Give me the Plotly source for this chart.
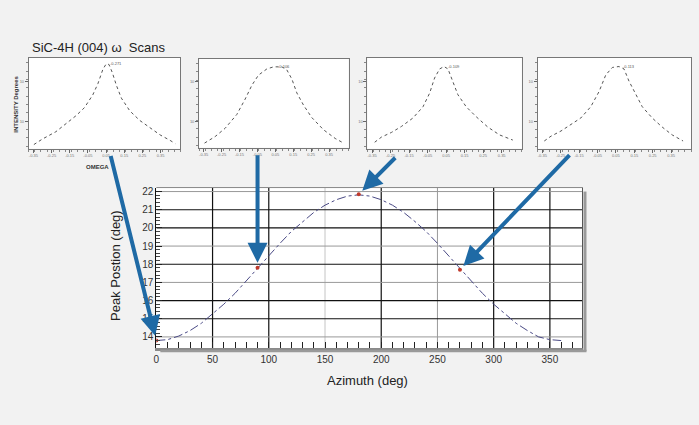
import plotly.graph_objects as go

W, H = 699, 425

# main curve: peak position vs azimuth
azimuth = [0, 10, 20, 30, 40, 50, 60, 70, 80, 90, 100, 110, 120, 130, 140, 150, 160, 170, 180,
           190, 200, 210, 220, 230, 240, 250, 260, 270, 280, 290, 300, 310, 320, 330, 340, 350, 360]
peak_pos = [13.8, 13.85, 14.05, 14.35, 14.75, 15.25, 15.8, 16.4, 17.1, 17.8, 18.5, 19.15, 19.8,
            20.35, 20.85, 21.25, 21.55, 21.75, 21.82, 21.75, 21.55, 21.25, 20.85, 20.35, 19.8,
            19.15, 18.45, 17.75, 17.05, 16.4, 15.8, 15.25, 14.75, 14.35, 14.0, 13.85, 13.8]

# measured scans (red dots)
meas_az = [0, 90, 180, 270]
meas_pos = [13.8, 17.8, 21.85, 17.7]

# omega scans shown in the four insets (normalised omega, normalised intensity)
scan1_x = [0.033, 0.089, 0.178, 0.244, 0.311, 0.367, 0.422, 0.456, 0.489, 0.511,
           0.529, 0.551, 0.578, 0.611, 0.667, 0.733, 0.8, 0.867, 0.933, 0.967]
scan1_y = [0.019, 0.085, 0.173, 0.269, 0.365, 0.462, 0.615, 0.75, 0.923, 0.988,
           0.981, 0.885, 0.731, 0.577, 0.423, 0.308, 0.223, 0.135, 0.069, 0.031]
scan2_x = [0.036, 0.107, 0.174, 0.252, 0.308, 0.353, 0.397, 0.453, 0.498, 0.554,
           0.587, 0.621, 0.654, 0.699, 0.754, 0.833, 0.911, 0.967]
scan2_y = [0.026, 0.106, 0.208, 0.377, 0.566, 0.736, 0.860, 0.936, 0.962, 0.962,
           0.925, 0.811, 0.642, 0.491, 0.340, 0.189, 0.083, 0.026]
scan3_x = [0.047, 0.091, 0.155, 0.220, 0.295, 0.360, 0.403, 0.435, 0.468, 0.496,
           0.522, 0.554, 0.586, 0.640, 0.705, 0.780, 0.856, 0.942]
scan3_y = [0.047, 0.109, 0.164, 0.236, 0.338, 0.473, 0.636, 0.818, 0.927, 0.956,
           0.927, 0.764, 0.618, 0.473, 0.353, 0.229, 0.135, 0.073]
scan4_x = [0.043, 0.087, 0.152, 0.216, 0.281, 0.346, 0.400, 0.444, 0.487, 0.530,
           0.563, 0.595, 0.639, 0.682, 0.747, 0.812, 0.877, 0.948]
scan4_y = [0.062, 0.120, 0.182, 0.255, 0.338, 0.473, 0.655, 0.855, 0.945, 0.956,
           0.927, 0.782, 0.618, 0.473, 0.338, 0.229, 0.135, 0.062]

scan_ticks = [0.03, 0.15, 0.27, 0.39, 0.51, 0.63, 0.75, 0.87]
scan_ticklabels = ["-0.35", "-0.25", "-0.15", "-0.05", "0.05", "0.15", "0.25", "0.35"]
peak_labels = ["-0.271", "-0.106", "-0.109", "-0.113"]

x_labels = [0, 50, 100, 150, 200, 250, 300, 350]
y_labels = [14, 15, 16, 17, 18, 19, 20, 21, 22]
grid_x_dark = [50, 100, 200, 300, 350]
grid_x_mid = [250]
grid_x_light = [150]
grid_y_dark = [15, 16, 18, 20, 21]
grid_y_light = [14, 17, 19, 22]


def px(x):
    return x / W


def py(y):
    return 1 - y / H


fig = go.Figure()

fig.add_trace(go.Scatter(x=azimuth, y=peak_pos, mode='lines',
                         line=dict(color='#4a4a85', width=1, dash='dashdot'),
                         xaxis='x', yaxis='y', hoverinfo='skip'))
fig.add_trace(go.Scatter(x=meas_az, y=meas_pos, mode='markers',
                         marker=dict(color='#c0392b', size=4),
                         xaxis='x', yaxis='y'))

scans = [(scan1_x, scan1_y), (scan2_x, scan2_y), (scan3_x, scan3_y), (scan4_x, scan4_y)]
inset_boxes = [(26, 178, 57, 148), (197, 347, 58, 147), (366, 521, 57, 148), (537, 691, 57, 148)]

layout = dict(
    width=W, height=H, margin=dict(l=0, r=0, t=0, b=0),
    paper_bgcolor='#f2f2f2', plot_bgcolor='white', showlegend=False,
    font=dict(family='Liberation Sans, Arial, sans-serif', color='#333'),
    xaxis=dict(domain=[px(154), px(582)], range=[0, 379], tickvals=x_labels,
               ticks='inside', ticklen=6, tickcolor='#222', showgrid=False, zeroline=False,
               tickfont=dict(size=10, color='#333'),
               minor=dict(dtick=10, ticks='inside', ticklen=6, tickcolor='#222', showgrid=False),
               showline=True, linecolor='#8a8a8a', linewidth=3, mirror=False),
    yaxis=dict(domain=[py(348), py(187)], range=[13.38, 22.22], tickvals=y_labels,
               ticks='inside', ticklen=6, tickcolor='#222', showgrid=False, zeroline=False,
               tickfont=dict(size=10, color='#333'),
               minor=dict(dtick=0.2, ticks='inside', ticklen=4, tickcolor='#444', showgrid=False),
               showline=True, linecolor='#111', linewidth=1),
)

for i, ((sx, sy), (x0, x1, y0, y1)) in enumerate(zip(scans, inset_boxes)):
    n = i + 2
    fig.add_trace(go.Scatter(x=sx, y=sy, mode='lines',
                             line=dict(color='#555', width=1, dash='dot'),
                             xaxis='x%d' % n, yaxis='y%d' % n))
    layout['xaxis%d' % n] = dict(
        domain=[px(x0), px(x1)], range=[0, 1], anchor='y%d' % n,
        tickvals=scan_ticks, ticktext=scan_ticklabels, ticks='outside', ticklen=3,
        tickcolor='#666', tickfont=dict(size=4, color='#777'),
        minor=dict(dtick=0.04, ticks='outside', ticklen=2, tickcolor='#888'),
        showgrid=False, zeroline=False, showline=True, linecolor='#777', mirror=True)
    layout['yaxis%d' % n] = dict(
        domain=[py(y1), py(y0)], range=[-0.03, 1.06], anchor='x%d' % n,
        tickvals=[0.29, 0.78], ticktext=['10', '10'], ticks='outside', ticklen=3,
        tickcolor='#666', tickfont=dict(size=4, color='#777'),
        minor=dict(dtick=0.1, ticks='outside', ticklen=2, tickcolor='#888'),
        showgrid=False, zeroline=False, showline=True, linecolor='#777', mirror=True)

fig.update_layout(**layout)

# gridlines of the main chart
shapes = []
for gx, col, w in ([(v, '#111', 1.2) for v in grid_x_dark] + [(v, '#999', 1) for v in grid_x_mid]
                   + [(v, '#d8d8d8', 1.5) for v in grid_x_light]):
    shapes.append(dict(type='line', xref='x', yref='y', x0=gx, x1=gx, y0=13.38, y1=22.22,
                       line=dict(color=col, width=w), layer='below'))
for gy, col, w in [(v, '#111', 1.2) for v in grid_y_dark] + [(v, '#999', 1) for v in grid_y_light]:
    shapes.append(dict(type='line', xref='x', yref='y', x0=0, x1=379, y0=gy, y1=gy,
                       line=dict(color=col, width=w), layer='below'))
# frame and drop shadow
shapes.append(dict(type='line', xref='paper', yref='paper', x0=px(154), x1=px(582), y0=py(187), y1=py(187),
                   line=dict(color='#888', width=1)))
shapes.append(dict(type='line', xref='paper', yref='paper', x0=px(582), x1=px(582), y0=py(187), y1=py(348),
                   line=dict(color='#555', width=1)))
shapes.append(dict(type='rect', xref='paper', yref='paper', x0=px(583), x1=px(586), y0=py(351), y1=py(191),
                   fillcolor='#9a9a9a', line=dict(width=0)))
shapes.append(dict(type='rect', xref='paper', yref='paper', x0=px(158), x1=px(586), y0=py(352), y1=py(349.5),
                   fillcolor='#9a9a9a', line=dict(width=0)))
fig.update_layout(shapes=shapes)

ann = []
ann.append(dict(text='Peak Postion (deg)', x=px(113), y=py(265), xref='paper', yref='paper',
                xanchor='center', yanchor='middle',
                textangle=-90, showarrow=False, font=dict(size=13, color='#222')))
ann.append(dict(text='Azimuth (deg)', x=px(366), y=py(380), xref='paper', yref='paper',
                xanchor='center', yanchor='middle',
                showarrow=False, font=dict(size=13, color='#222')))
ann.append(dict(text='SiC-4H (004) ω  Scans', x=px(27), y=py(47), xref='paper', yref='paper',
                xanchor='left', yanchor='middle', showarrow=False, font=dict(size=13, color='#222')))
ann.append(dict(text='<b>INTENSITY Degrees</b>', x=px(13), y=py(103), xref='paper', yref='paper',
                xanchor='center', yanchor='middle',
                textangle=-90, showarrow=False, font=dict(size=6, color='#333')))
ann.append(dict(text='<b>OMEGA</b>', x=px(95), y=py(166), xref='paper', yref='paper',
                xanchor='center', yanchor='middle',
                showarrow=False, font=dict(size=6, color='#333')))
for i, ((sx, sy), lab) in enumerate(zip(scans, peak_labels)):
    k = sy.index(max(sy))
    n = i + 2
    ann.append(dict(text=lab, x=sx[k], y=sy[k], xref='x%d' % n, yref='y%d' % n, xanchor='left',
                    xshift=2, showarrow=False, font=dict(size=4, color='#555')))

# blue arrows from the scans to the measured points
arrow_tails = [(-46, -186), (0, -114), (38, -38), (111, -116)]
for (ax, ay), mx, my in zip(arrow_tails, meas_az, meas_pos):
    ann.append(dict(x=mx, y=my, xref='x', yref='y', ax=ax, ay=ay, text='', showarrow=True,
                    arrowhead=2, arrowsize=1, arrowwidth=4, arrowcolor='#1f6aa5', standoff=5))
fig.update_layout(annotations=ann)

fig.write_html("out.html", config={'displayModeBar': False},
               post_script="document.body.style.margin='0';document.body.style.background='#f2f2f2';")
